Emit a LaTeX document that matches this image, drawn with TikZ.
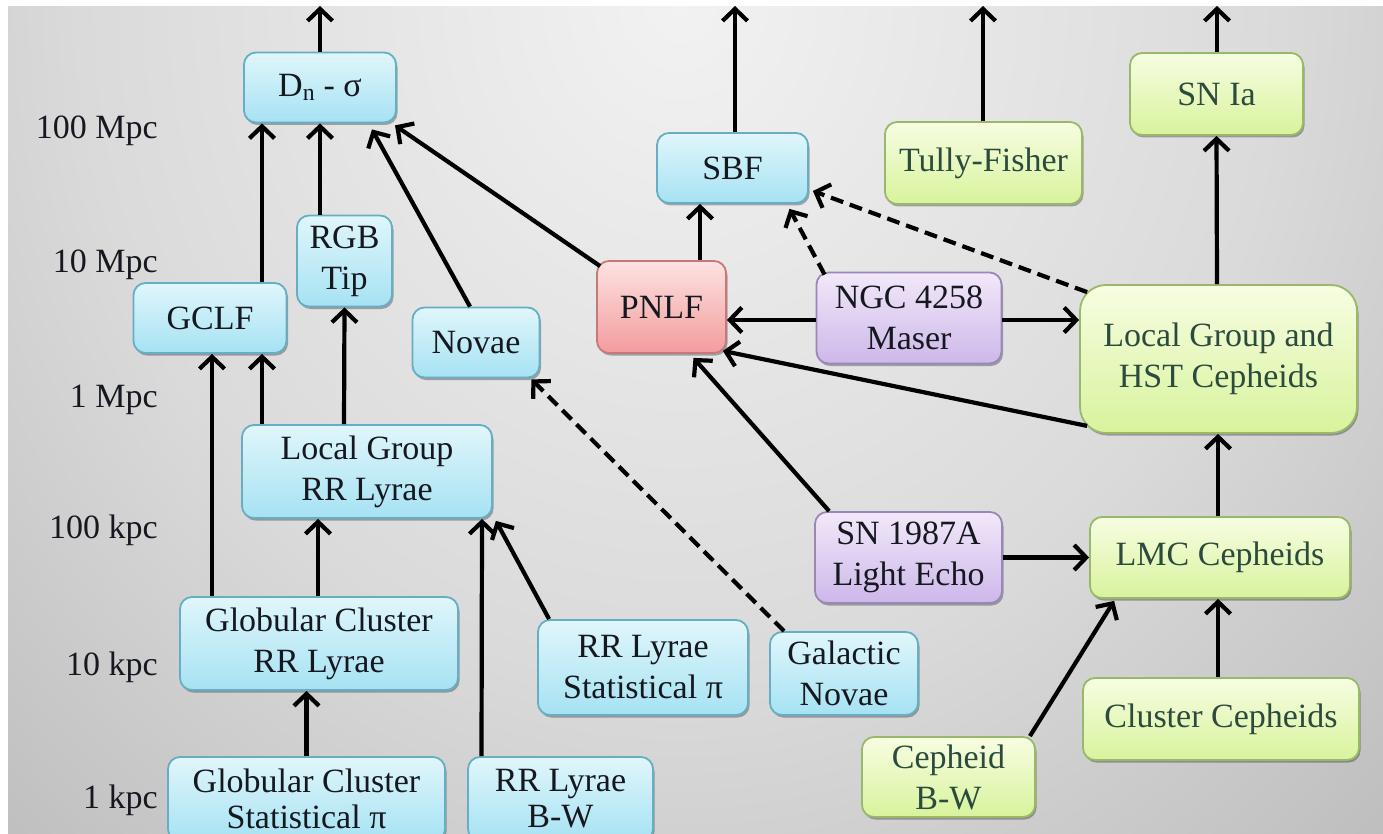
\documentclass[tikz,border=0pt]{standalone}
\usepackage{fontspec}
\IfFontExistsTF{LiberationSerif-Regular.ttf}
  {\setmainfont{LiberationSerif-Regular.ttf}[BoldFont=LiberationSerif-Bold.ttf,ItalicFont=LiberationSerif-Italic.ttf]}
  {\setmainfont{DejaVu Serif}}
\usetikzlibrary{arrows.meta,shadows}
\definecolor{bgA}{HTML}{F2F2F2}
\definecolor{bgB}{HTML}{DADADA}
\definecolor{bgC}{HTML}{BABABA}
\definecolor{bgD}{HTML}{A8A8A8}
\definecolor{bgE}{HTML}{989898}
\definecolor{bgF}{HTML}{8E8E8E}
\definecolor{blueTop}{HTML}{E0F6FB}
\definecolor{blueBot}{HTML}{A6E2F3}
\definecolor{blueLine}{HTML}{66AEC4}
\definecolor{greenTop}{HTML}{F7FDE2}
\definecolor{greenBot}{HTML}{D8F39C}
\definecolor{greenLine}{HTML}{9AB86A}
\definecolor{greenText}{HTML}{2C4A3E}
\definecolor{purpTop}{HTML}{F2E8F9}
\definecolor{purpBot}{HTML}{CDB8EA}
\definecolor{purpLine}{HTML}{9A86B8}
\definecolor{pinkTop}{HTML}{FDE2E2}
\definecolor{pinkBot}{HTML}{F39C9C}
\definecolor{pinkLine}{HTML}{C87878}
\definecolor{textDark}{HTML}{161820}
\pgfdeclareradialshading{bgshade}{\pgfpoint{0bp}{0bp}}{color(0bp)=(bgA); color(10bp)=(bgB); color(18bp)=(bgC); color(24bp)=(bgD); color(27bp)=(bgE); color(35bp)=(bgF); color(50bp)=(bgF)}
\tikzset{
  txt/.style={font=\fontsize{34}{41}\selectfont, text=textDark},
  box/.style={txt, rounded corners=12pt, line width=1.8pt, align=center, inner sep=0pt,
    drop shadow={shadow xshift=1.5pt, shadow yshift=-2.5pt, opacity=0.3, fill=black}},
  bluebox/.style={box, draw=blueLine, top color=blueTop, bottom color=blueBot},
  greenbox/.style={box, draw=greenLine, top color=greenTop, bottom color=greenBot, text=greenText},
  purpbox/.style={box, draw=purpLine, top color=purpTop, bottom color=purpBot},
  pinkbox/.style={box, draw=pinkLine, top color=pinkTop, bottom color=pinkBot},
  sz/.style 2 args={minimum width=#1pt, minimum height=#2pt},
  arr/.style={line width=4.2pt, black, -{Straight Barb[length=12pt,width=25pt]}},
  darr/.style={arr, dash pattern=on 13pt off 7pt},
  scalelab/.style={txt, anchor=east, inner sep=0pt}
}
\begin{document}
\begin{tikzpicture}[x=1pt,y=-1pt]
\clip (0,0) rectangle (1383,834);
\useasboundingbox (0,0) rectangle (1383,834);
\fill[white] (0,0) rectangle (1383,834);
\begin{scope}
\clip (8,7) rectangle (1383,834);
\shade[shading=bgshade] (680,0) ellipse [x radius=1500, y radius=1700];
\end{scope}

% scale labels
\node[scalelab] (l1) at (158,131) {100 Mpc};
\node[scalelab] (l2) at (158,265) {10 Mpc};
\node[scalelab] (l3) at (158,400) {1 Mpc};
\node[scalelab] (l4) at (158,530) {100 kpc};
\node[scalelab] (l5) at (158,667) {10 kpc};
\node[scalelab] (l6) at (158,800) {1 kpc};

% nodes
\node[bluebox, sz={152}{70}] (dn) at (320,87.5) {D\textsubscript{n} - σ};
\node[bluebox, sz={151}{70}] (sbf) at (732.5,168) {SBF};
\node[greenbox, sz={197}{82}] (tf) at (983.5,163) {Tully-Fisher};
\node[greenbox, sz={173}{82}] (snia) at (1216.5,94) {SN Ia};
\node[bluebox, sz={153}{70}] (gclf) at (210,318) {GCLF};
\node[bluebox, sz={95}{91}] (rgb) at (344.5,261) {RGB\\Tip};
\node[bluebox, sz={127}{70}] (novae) at (476,342.5) {Novae};
\node[pinkbox, sz={129}{92}] (pnlf) at (661.5,307) {PNLF};
\node[purpbox, sz={185}{91}] (ngc) at (909,318) {NGC 4258\\Maser};
\node[greenbox, sz={277}{148}, rounded corners=26pt] (lghst) at (1218.5,359) {Local Group and\\HST Cepheids};
\node[bluebox, sz={250}{93}] (lgrr) at (367,471.5) {Local Group\\RR Lyrae};
\node[purpbox, sz={187}{91}] (sn87) at (908.5,557.5) {SN 1987A\\Light Echo};
\node[greenbox, sz={260}{81}] (lmc) at (1220,557.5) {LMC Cepheids};
\node[bluebox, sz={278}{93}] (gcrr) at (319,643.5) {Globular Cluster\\RR Lyrae};
\node[bluebox, sz={210}{95}] (rrstat) at (643,667.5) {RR Lyrae\\Statistical π};
\node[bluebox, sz={148}{83}] (galnov) at (844,673.5) {Galactic\\Novae};
\node[greenbox, sz={276}{82}] (clceph) at (1221,719) {Cluster Cepheids};
\node[greenbox, sz={173}{80}] (cephbw) at (948.5,777) {Cepheid\\B-W};
\node[bluebox, sz={277}{84}, font=\fontsize{34}{36}\selectfont] (gcstat) at (306.5,799) {Globular Cluster\\Statistical π};
\node[bluebox, sz={185}{84}, font=\fontsize{34}{36}\selectfont] (rrbw) at (560.5,799) {RR Lyrae\\B-W};

% free ends at top edge
\coordinate (t1) at (320,6);
\coordinate (t2) at (735,6);
\coordinate (t3) at (983,6);
\coordinate (t4) at (1217,6);

% connectors
\draw[arr] (dn.north) -- (t1);
\draw[arr] ([xshift=2.5pt]sbf.north) -- (t2);
\draw[arr] ([xshift=-0.5pt]tf.north) -- (t3);
\draw[arr] ([xshift=0.5pt]snia.north) -- (t4);

\draw[arr] ([xshift=52pt]gclf.north) -- ([xshift=-58pt]dn.south);
\draw[arr] ([xshift=-24.5pt]rgb.north) -- (dn.south);
\draw[arr] ([xshift=-6pt]novae.north) -- ([xshift=52pt,yshift=-6pt]dn.south);
\draw[arr] ([xshift=4pt,yshift=-6pt]pnlf.north west) -- ([xshift=75pt,yshift=-2pt]dn.south);

\draw[arr] ([xshift=-105pt]lgrr.north) -- ([xshift=52pt]gclf.south);
\draw[arr] ([xshift=-107pt]gcrr.north) -- ([xshift=2pt]gclf.south);
\draw[arr] ([xshift=-23pt]lgrr.north) -- (rgb.south);
\draw[arr] ([xshift=-1pt]gcrr.north) -- ([xshift=-49pt]lgrr.south);
\draw[arr] (gcstat.north) -- ([xshift=-12.5pt]gcrr.south);
\draw[arr] ([xshift=-79pt]rrbw.north) -- ([xshift=115pt]lgrr.south);
\draw[arr] ([xshift=12pt]rrstat.north west) -- ([xshift=3pt,yshift=-2pt]lgrr.south east);
\draw[darr] ([xshift=15pt]galnov.north west) -- ([xshift=-9pt,yshift=-1pt]novae.south east);

\draw[arr] ([xshift=38.5pt]pnlf.north) -- ([xshift=-32.5pt]sbf.south);
\draw[darr] ([xshift=9pt,yshift=-3pt]ngc.north west) -- ([xshift=57pt,yshift=-5pt]sbf.south);
\draw[darr] ([xshift=8pt,yshift=-8pt]lghst.north west) -- ([xshift=4pt,yshift=-23pt]sbf.east);
\draw[arr] ([yshift=-2pt]ngc.west) -- ([yshift=-13pt]pnlf.east);
\draw[arr] ([yshift=-2pt]ngc.east) -- ([yshift=39pt]lghst.west);
\draw[arr] ([xshift=8pt,yshift=8pt]lghst.south west) -- ([xshift=-4pt,yshift=3pt]pnlf.south east);
\draw[arr] ([xshift=15pt]sn87.north west) -- ([xshift=32pt,yshift=-4pt]pnlf.south);
\draw[arr] (sn87.east) -- (lmc.west);
\draw[arr] ([xshift=-2pt]lmc.north) -- ([xshift=-0.5pt]lghst.south);
\draw[arr] ([xshift=-1.5pt]lghst.north) -- (snia.south);
\draw[arr] ([xshift=-3pt]clceph.north) -- ([xshift=-2pt]lmc.south);
\draw[arr] ([xshift=-6pt]cephbw.north east) -- ([xshift=25pt,yshift=-2pt]lmc.south west);
\end{tikzpicture}
\end{document}
